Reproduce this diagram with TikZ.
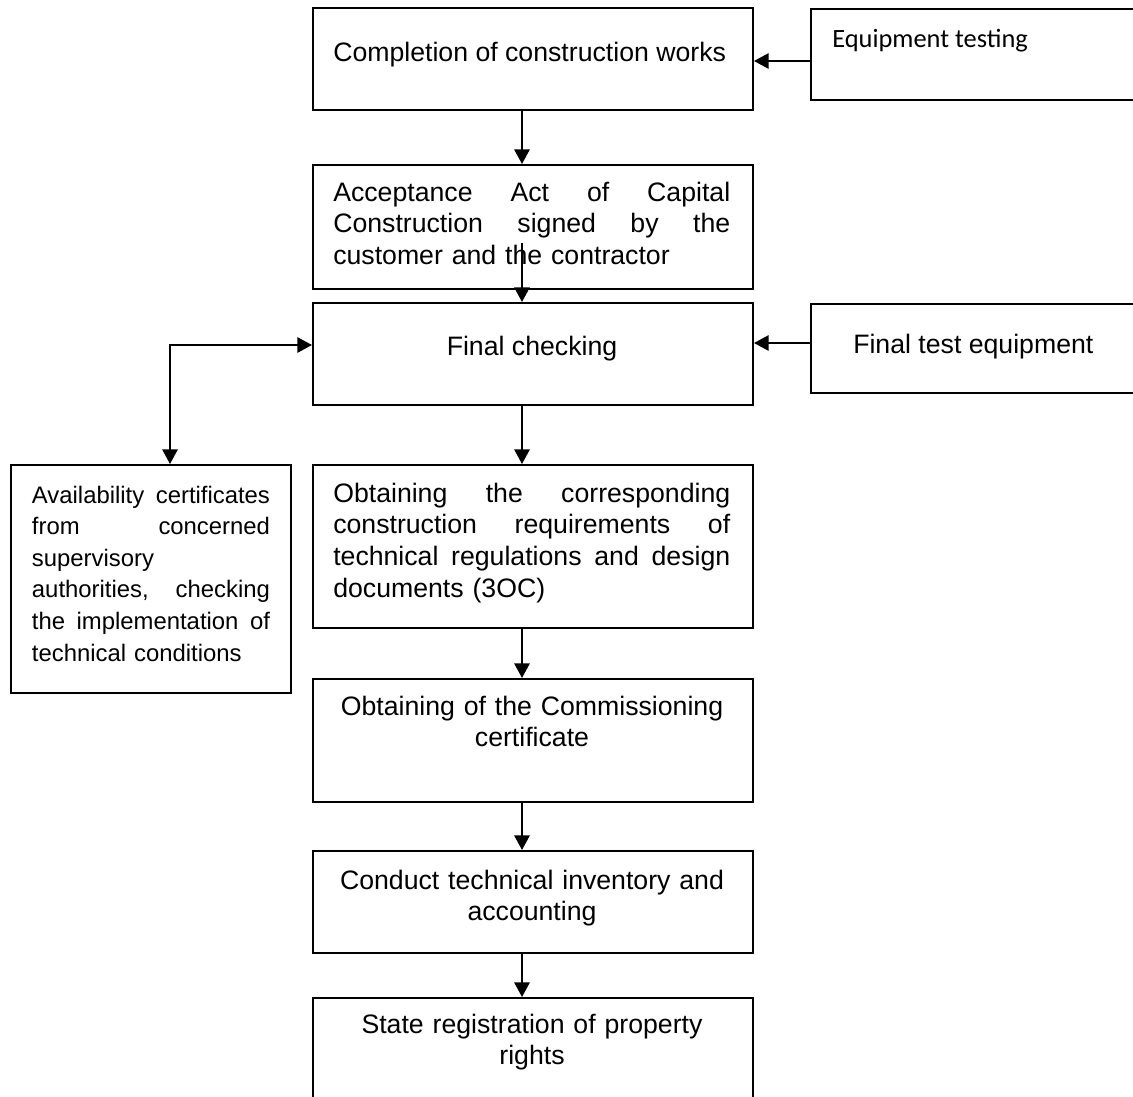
\documentclass[tikz,border=0pt]{standalone}
\usepackage{fontspec}
\setmainfont{Liberation Sans}
\newfontfamily\calibri{Carlito}
\usetikzlibrary{arrows.meta}
% a justified line: words spread over the given width
\newcommand{\jline}[2]{\leavevmode\hbox to #1{#2}}
\begin{document}
\begin{tikzpicture}[x=0.75pt,y=-0.75pt,
  box/.style={draw, line width=1.5pt, rectangle, inner sep=0pt, anchor=north west},
  arr/.style={line width=1.5pt, -{Triangle[length=11pt,width=11.5pt]}},
  darr/.style={line width=1.5pt, {Triangle[length=11pt,width=11.5pt]}-{Triangle[length=11pt,width=11.5pt]}},
  txt/.style={inner sep=0pt, font=\fontsize{20}{23.8}\selectfont},
  ctxt/.style={txt, anchor=base, text width=330pt, align=center},
  smalltxt/.style={inner sep=0pt, font=\fontsize{17.9}{23.7}\selectfont}]
\useasboundingbox (0,0) rectangle (1133,1097);
\clip (0,0) rectangle (1133,1097);

% boxes of the main column
\node[box, minimum width=330pt, minimum height=76.5pt]  (b1) at (312,7)   {};
\node[box, minimum width=330pt, minimum height=93pt]    (b2) at (312,164) {};
\node[box, minimum width=330pt, minimum height=76.5pt]  (b3) at (312,302) {};
\node[box, minimum width=330pt, minimum height=122.25pt] (b4) at (312,464) {};
\node[box, minimum width=330pt, minimum height=92.25pt] (b5) at (312,678) {};
\node[box, minimum width=330pt, minimum height=76.5pt]  (b6) at (312,850) {};
\node[box, minimum width=330pt, minimum height=92.25pt] (b7) at (312,997) {};
% side boxes
\node[box, minimum width=255pt, minimum height=68.25pt] (eq) at (810,8)   {};
\node[box, minimum width=255pt, minimum height=66.75pt] (ft) at (810,303) {};
\node[box, minimum width=210pt, minimum height=171pt]   (lb) at (10,464)  {};

% texts
\node[txt, anchor=base west] (t1) at (333,61) {Completion of construction works};
\node[inner sep=0pt, anchor=base west, font=\calibri\fontsize{19.8}{24}\selectfont] (teq) at (832,47) {Equipment testing};
\node[txt, anchor=base west, text width=297.75pt, align=left] (t2) at (333,201)
  {\jline{297.75pt}{Acceptance\hfill Act\hfill of\hfill Capital}\\
   \jline{297.75pt}{Construction\hfill signed\hfill by\hfill the}\\
   customer and the contractor};
\node[txt, anchor=base] (t3) at (532,355) {Final checking};
\node[txt, anchor=base west] (tft) at (853,353) {Final test equipment};
\node[txt, anchor=base west, text width=297.75pt, align=left] (t4) at (333,502)
  {\jline{297.75pt}{Obtaining\hfill the\hfill corresponding}\\
   \jline{297.75pt}{construction\hfill requirements\hfill of}\\
   \jline{297.75pt}{technical\hfill regulations\hfill and\hfill design}\\
   documents (3OC)};
\node[ctxt] (t5) at (532,715) {Obtaining of the Commissioning\\certificate};
\node[ctxt] (t6) at (532,889) {Conduct technical inventory and\\accounting};
\node[ctxt] (t7) at (532,1033) {State registration of property\\rights};
\node[smalltxt, anchor=base west, text width=178.5pt, align=left] (tlb) at (31.7,503)
  {\jline{178.5pt}{Availability\hfill certificates}\\
   \jline{178.5pt}{from\hfill concerned}\\
   supervisory\\
   \jline{178.5pt}{authorities,\hfill checking}\\
   \jline{178.5pt}{the\hfill implementation\hfill of}\\
   technical conditions};

% connectors
\coordinate (cx) at (522,0);
\coordinate (y1) at (0,61);
\coordinate (y2) at (0,243);
\coordinate (y3) at (0,345);
\coordinate (y4) at (0,343);
\coordinate (lx) at (170,0);
\draw[arr] (eq.west |- y1) -- (b1.east |- y1);
\draw[arr] (b1.south -| cx) -- (b2.north -| cx);
\draw[arr] (cx |- y2) -- (b3.north -| cx);
\draw[arr] (ft.west |- y4) -- (b3.east |- y4);
\draw[darr] (b3.west |- y3) -- (lx |- y3) -- (lb.north -| lx);
\draw[arr] (b3.south -| cx) -- (b4.north -| cx);
\draw[arr] (b4.south -| cx) -- (b5.north -| cx);
\draw[arr] (b5.south -| cx) -- (b6.north -| cx);
\draw[arr] (b6.south -| cx) -- (b7.north -| cx);
\end{tikzpicture}
\end{document}
